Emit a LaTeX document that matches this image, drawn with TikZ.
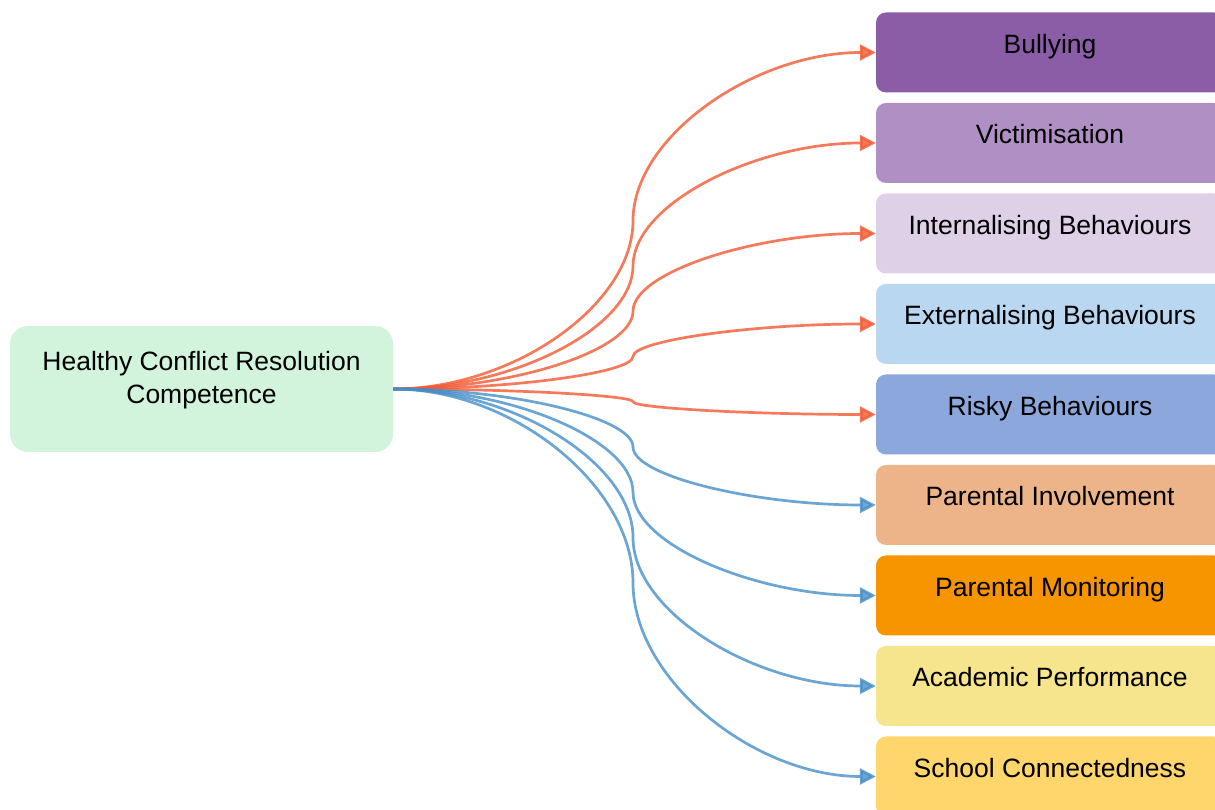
\documentclass[tikz,border=0pt]{standalone}
\usepackage{fontspec}
\setmainfont{Liberation Sans}
\usetikzlibrary{arrows.meta,calc}

\definecolor{hubfill}{HTML}{D2F4DC}
\definecolor{cBul}{HTML}{8A5DA6}
\definecolor{cVic}{HTML}{AF8FC4}
\definecolor{cInt}{HTML}{DDD0E7}
\definecolor{cExt}{HTML}{B9D7F1}
\definecolor{cRisk}{HTML}{8CA7DC}
\definecolor{cPInv}{HTML}{EDB489}
\definecolor{cPMon}{HTML}{F79500}
\definecolor{cAcad}{HTML}{F6E58C}
\definecolor{cSchool}{HTML}{FFD66B}
\definecolor{harmline}{RGB}{242,89,50}
\definecolor{helpline}{RGB}{69,142,201}

\begin{document}
\begin{tikzpicture}[x=1pt,y=1pt,
  hub/.style={rounded corners=18pt, fill=hubfill, minimum width=383pt,
    minimum height=126pt, inner sep=0pt},
  outbox/.style={rounded corners=10pt, minimum width=348pt,
    minimum height=80pt, inner sep=0pt},
  boxtext/.style={anchor=base, inner sep=0pt,
    font=\fontsize{26.5}{33}\selectfont},
  link/.style={line width=2.7pt, opacity=0.8,
    -{Triangle[length=16pt,width=16pt]}},
  harm/.style={link, draw=harmline},
  help/.style={link, draw=helpline}]

\useasboundingbox (0,0) rectangle (1215,810);

% source box
\node[hub] (hcr) at (201.5,421) {};
\node[boxtext, anchor=center, align=center] (hcrtext) at ($(hcr.center)+(0,8.4)$)
  {Healthy Conflict Resolution\\Competence};

% outcome boxes
\foreach \name/\col/\txt [count=\i from 0] in {
    bul/cBul/Bullying,
    vic/cVic/Victimisation,
    int/cInt/Internalising Behaviours,
    ext/cExt/Externalising Behaviours,
    risk/cRisk/Risky Behaviours,
    pinv/cPInv/Parental Involvement,
    pmon/cPMon/Parental Monitoring,
    acad/cAcad/Academic Performance,
    school/cSchool/School Connectedness} {
  \node[outbox, fill=\col] (\name) at (1050, {757.5-90.5*\i}) {};
  \node[boxtext] (\name-t) at ($(\name.center)+(0,-1)$) {\txt};
}

% column where every connector turns
\coordinate (bend) at (633,421);

% connectors: two cubic pieces meeting vertically at the bend column
\foreach \t in {bul,vic,int,ext,risk}
  \draw[harm] let \p1=(hcr.east), \p2=(\t.west), \p3=(bend),
      \n1={0.5*(\y1+\y2)} in
    (\p1) .. controls ({0.5*(\x1+\x3)},\y1) and (\x3,{0.5*(\y1+\n1)}) .. (\x3,\n1)
          .. controls (\x3,{0.5*(\n1+\y2)}) and ({0.5*(\x3+\x2)},\y2) .. (\p2);

\foreach \t in {pinv,pmon,acad,school}
  \draw[help] let \p1=(hcr.east), \p2=(\t.west), \p3=(bend),
      \n1={0.5*(\y1+\y2)} in
    (\p1) .. controls ({0.5*(\x1+\x3)},\y1) and (\x3,{0.5*(\y1+\n1)}) .. (\x3,\n1)
          .. controls (\x3,{0.5*(\n1+\y2)}) and ({0.5*(\x3+\x2)},\y2) .. (\p2);

\end{tikzpicture}
\end{document}
